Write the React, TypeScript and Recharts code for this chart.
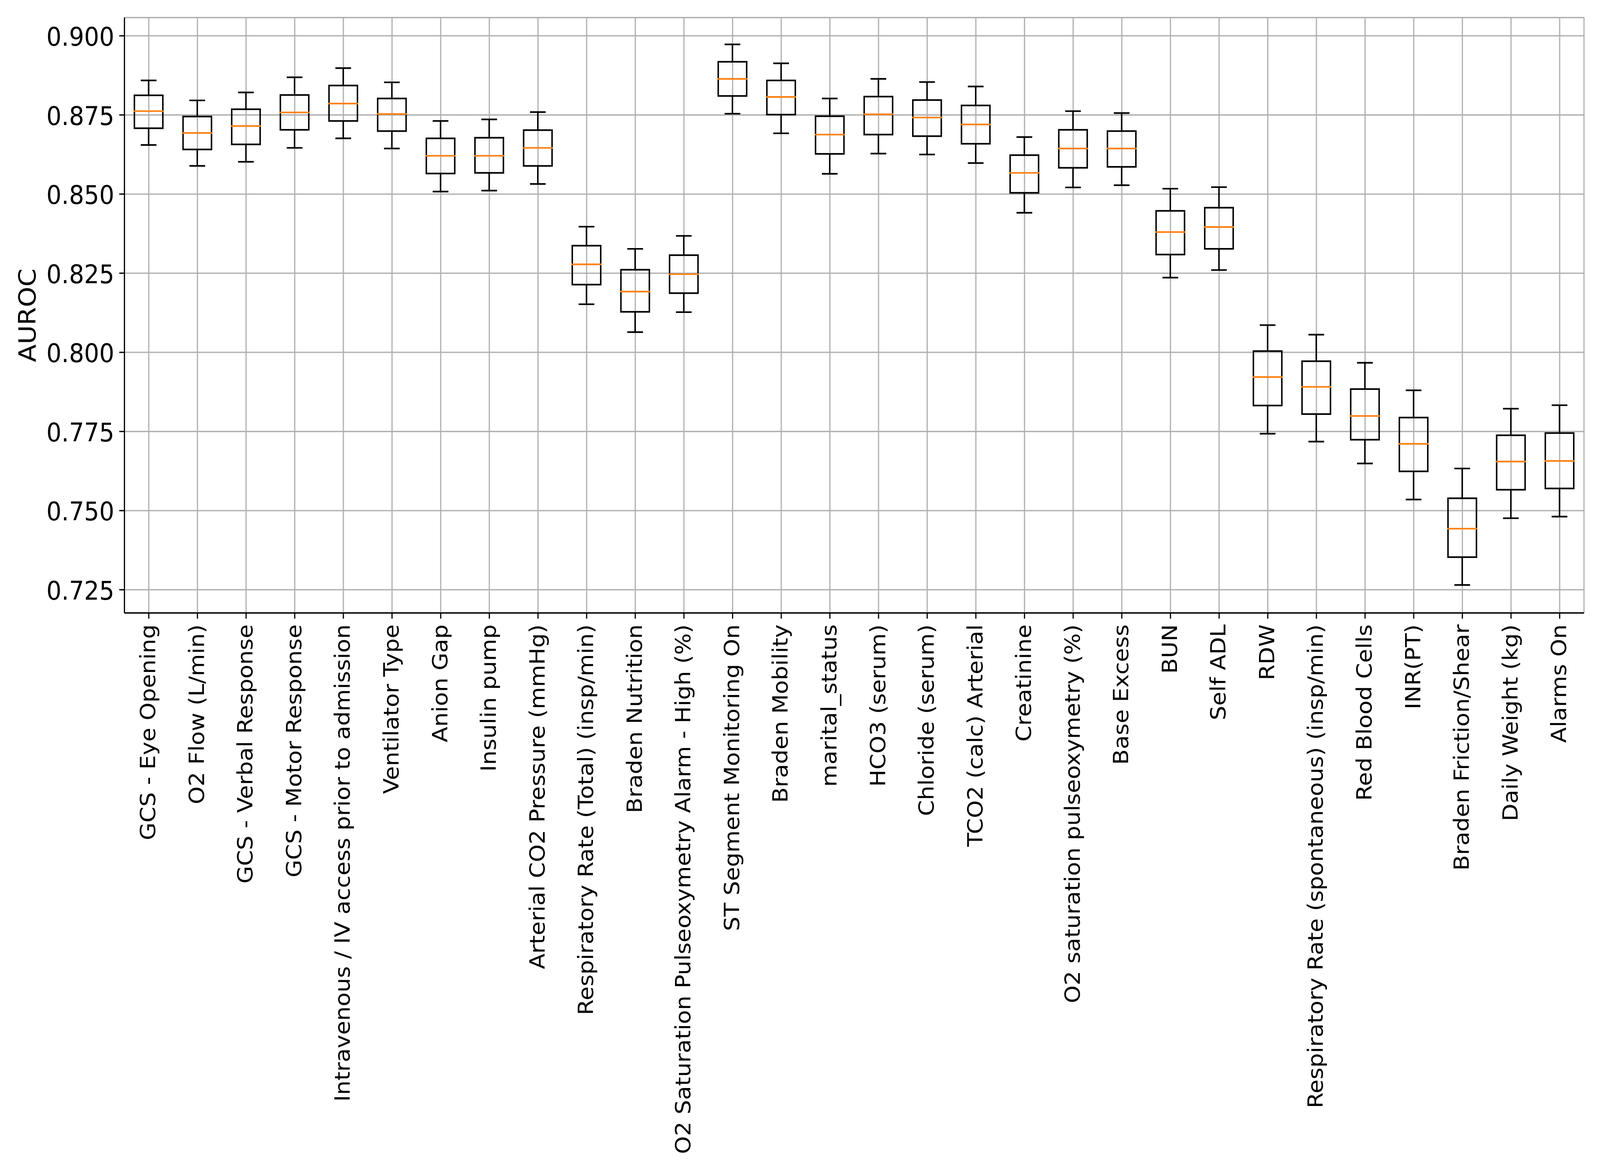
import { ComposedChart, Bar, XAxis, YAxis, CartesianGrid } from 'recharts';

const categories = [
  'GCS - Eye Opening',
  'O2 Flow (L/min)',
  'GCS - Verbal Response',
  'GCS - Motor Response',
  'Intravenous / IV access prior to admission',
  'Ventilator Type',
  'Anion Gap',
  'Insulin pump',
  'Arterial CO2 Pressure (mmHg)',
  'Respiratory Rate (Total) (insp/min)',
  'Braden Nutrition',
  'O2 Saturation Pulseoxymetry Alarm - High (%)',
  'ST Segment Monitoring On',
  'Braden Mobility',
  'marital_status',
  'HCO3 (serum)',
  'Chloride (serum)',
  'TCO2 (calc) Arterial',
  'Creatinine',
  'O2 saturation pulseoxymetry (%)',
  'Base Excess',
  'BUN',
  'Self ADL',
  'RDW',
  'Respiratory Rate (spontaneous) (insp/min)',
  'Red Blood Cells',
  'INR(PT)',
  'Braden Friction/Shear',
  'Daily Weight (kg)',
  'Alarms On',
];

const whiskerLow = [
  0.8655, 0.8589, 0.8602, 0.8646, 0.8676, 0.8644, 0.8508, 0.8511, 0.8532, 0.8152,
  0.8064, 0.8127, 0.8754, 0.8692, 0.8564, 0.8628, 0.8625, 0.8598, 0.8441, 0.8521,
  0.8528, 0.8236, 0.826, 0.7743, 0.7718, 0.7649, 0.7535, 0.7265, 0.7476, 0.7481,
];
const q1 = [
  0.8708, 0.8641, 0.8657, 0.8703, 0.8731, 0.8699, 0.8565, 0.8567, 0.8589, 0.8214,
  0.8128, 0.8187, 0.881, 0.8751, 0.8627, 0.8688, 0.8683, 0.8659, 0.8504, 0.8583,
  0.8586, 0.8309, 0.8327, 0.7832, 0.7805, 0.7724, 0.7624, 0.7353, 0.7566, 0.757,
];
const median = [
  0.8762, 0.8693, 0.8715, 0.8758, 0.8786, 0.8753, 0.8621, 0.8621, 0.8646, 0.8278,
  0.8192, 0.8247, 0.8864, 0.8807, 0.8688, 0.8752, 0.8742, 0.872, 0.8567, 0.8644,
  0.8644, 0.838, 0.8396, 0.7922, 0.7891, 0.7799, 0.7711, 0.7443, 0.7655, 0.7657,
];
const q3 = [
  0.8812, 0.8745, 0.8768, 0.8813, 0.8843, 0.8802, 0.8676, 0.8678, 0.8702, 0.8337,
  0.8261, 0.8307, 0.8918, 0.8859, 0.8746, 0.8808, 0.8797, 0.878, 0.8623, 0.8703,
  0.8699, 0.8447, 0.8457, 0.8004, 0.7972, 0.7884, 0.7794, 0.7539, 0.7738, 0.7745,
];
const whiskerHigh = [
  0.8859, 0.8796, 0.8821, 0.8869, 0.8898, 0.8853, 0.8731, 0.8736, 0.8759, 0.8397,
  0.8327, 0.8368, 0.8973, 0.8913, 0.8802, 0.8864, 0.8854, 0.884, 0.868, 0.8762,
  0.8756, 0.8517, 0.8522, 0.8086, 0.8056, 0.7967, 0.788, 0.7633, 0.7822, 0.7833,
];

const yTicks = [0.725, 0.75, 0.775, 0.8, 0.825, 0.85, 0.875, 0.9];

const data = categories.map((name, i) => ({
  name,
  lo: whiskerLow[i],
  q1: q1[i],
  med: median[i],
  q3: q3[i],
  hi: whiskerHigh[i],
}));

const W = 4500;
const H = 3000;
const FONT = 'DejaVu Sans';
const AXIS_LW = 3.33;
const BOX_LW = 4.17;

function BoxShape(props: any) {
  const { x, y, width, height, payload } = props;
  if (!payload) return null;
  const top = Math.min(y, y + height);
  const bottom = Math.max(y, y + height);
  const { lo, hi } = payload;
  const py = (v: number) => top + ((hi - v) / (hi - lo)) * (bottom - top);
  const cx = x + width / 2;
  const cap = width / 4;
  const yq3 = py(payload.q3);
  const yq1 = py(payload.q1);
  const ym = py(payload.med);
  return (
    <g>
      <line x1={cx} y1={top} x2={cx} y2={yq3} stroke="#000" strokeWidth={BOX_LW} />
      <line x1={cx} y1={yq1} x2={cx} y2={bottom} stroke="#000" strokeWidth={BOX_LW} />
      <line x1={cx - cap} y1={top} x2={cx + cap} y2={top} stroke="#000" strokeWidth={BOX_LW} strokeLinecap="square" />
      <line x1={cx - cap} y1={bottom} x2={cx + cap} y2={bottom} stroke="#000" strokeWidth={BOX_LW} strokeLinecap="square" />
      <rect x={x} y={yq3} width={width} height={yq1 - yq3} fill="none" stroke="#000" strokeWidth={BOX_LW} />
      <line x1={x} y1={ym} x2={x + width} y2={ym} stroke="#ff7f0e" strokeWidth={BOX_LW} strokeLinecap="square" />
    </g>
  );
}

function XTick(props: any) {
  const { x, y, payload } = props;
  return (
    <text
      x={x}
      y={y}
      transform={`rotate(-90, ${x}, ${y})`}
      textAnchor="end"
      dy="0.31em"
      fontSize={58.3}
      fontFamily={FONT}
      fill="#000"
    >
      {payload.value}
    </text>
  );
}

function YTick(props: any) {
  const { x, y, payload } = props;
  return (
    <text x={x} y={y} textAnchor="end" dy="0.38em" fontSize={66.7} fontFamily={FONT} fill="#000">
      {Number(payload.value).toFixed(3)}
    </text>
  );
}

function YLabel(props: any) {
  const vb = props.viewBox || { x: 0, y: 45, width: 350, height: 1524 };
  const lx = vb.x + 100;
  const ly = vb.y + vb.height / 2;
  return (
    <text x={lx} y={ly} transform={`rotate(-90, ${lx}, ${ly})`} textAnchor="middle" fontSize={66.7} fontFamily={FONT} fill="#000">
      AUROC
    </text>
  );
}

export default function App() {
  // the window can be narrower than the 4500px canvas; squeeze it to fit
  const sx = Math.min(1, window.innerWidth / W);
  const sy = Math.min(1, window.innerHeight / H);
  return (
    <div
      style={{
        position: 'absolute',
        left: 0,
        top: 0,
        width: W * sx,
        height: H * sy,
        overflow: 'hidden',
        background: '#fff',
      }}
    >
      <div style={{ width: W, height: H, transform: `scale(${sx}, ${sy})`, transformOrigin: '0 0' }}>
        <ComposedChart width={W} height={H} data={data} margin={{ top: 45, right: 45, bottom: 0, left: 0 }}>
          <CartesianGrid stroke="#b0b0b0" strokeWidth={AXIS_LW} />
          <XAxis
            dataKey="name"
            interval={0}
            height={1431}
            tick={<XTick />}
            tickSize={14.6}
            tickMargin={14.6}
            axisLine={{ stroke: '#000', strokeWidth: AXIS_LW }}
            tickLine={{ stroke: '#000', strokeWidth: AXIS_LW }}
          />
          <XAxis
            xAxisId="top"
            orientation="top"
            dataKey="name"
            height={0}
            tick={false}
            tickLine={false}
            axisLine={{ stroke: '#000', strokeWidth: AXIS_LW }}
          />
          <YAxis
            type="number"
            domain={[0.71767, 0.90576]}
            allowDataOverflow
            ticks={yTicks}
            width={350}
            tick={<YTick />}
            tickSize={14.6}
            tickMargin={14}
            axisLine={{ stroke: '#000', strokeWidth: AXIS_LW }}
            tickLine={{ stroke: '#000', strokeWidth: AXIS_LW }}
            label={<YLabel />}
          />
          <YAxis
            yAxisId="right"
            orientation="right"
            width={0}
            tick={false}
            tickLine={false}
            axisLine={{ stroke: '#000', strokeWidth: AXIS_LW }}
          />
          <Bar
            dataKey={(d: any) => [d.lo, d.hi]}
            barSize={80}
            shape={<BoxShape />}
            isAnimationActive={false}
          />
        </ComposedChart>
      </div>
    </div>
  );
}
